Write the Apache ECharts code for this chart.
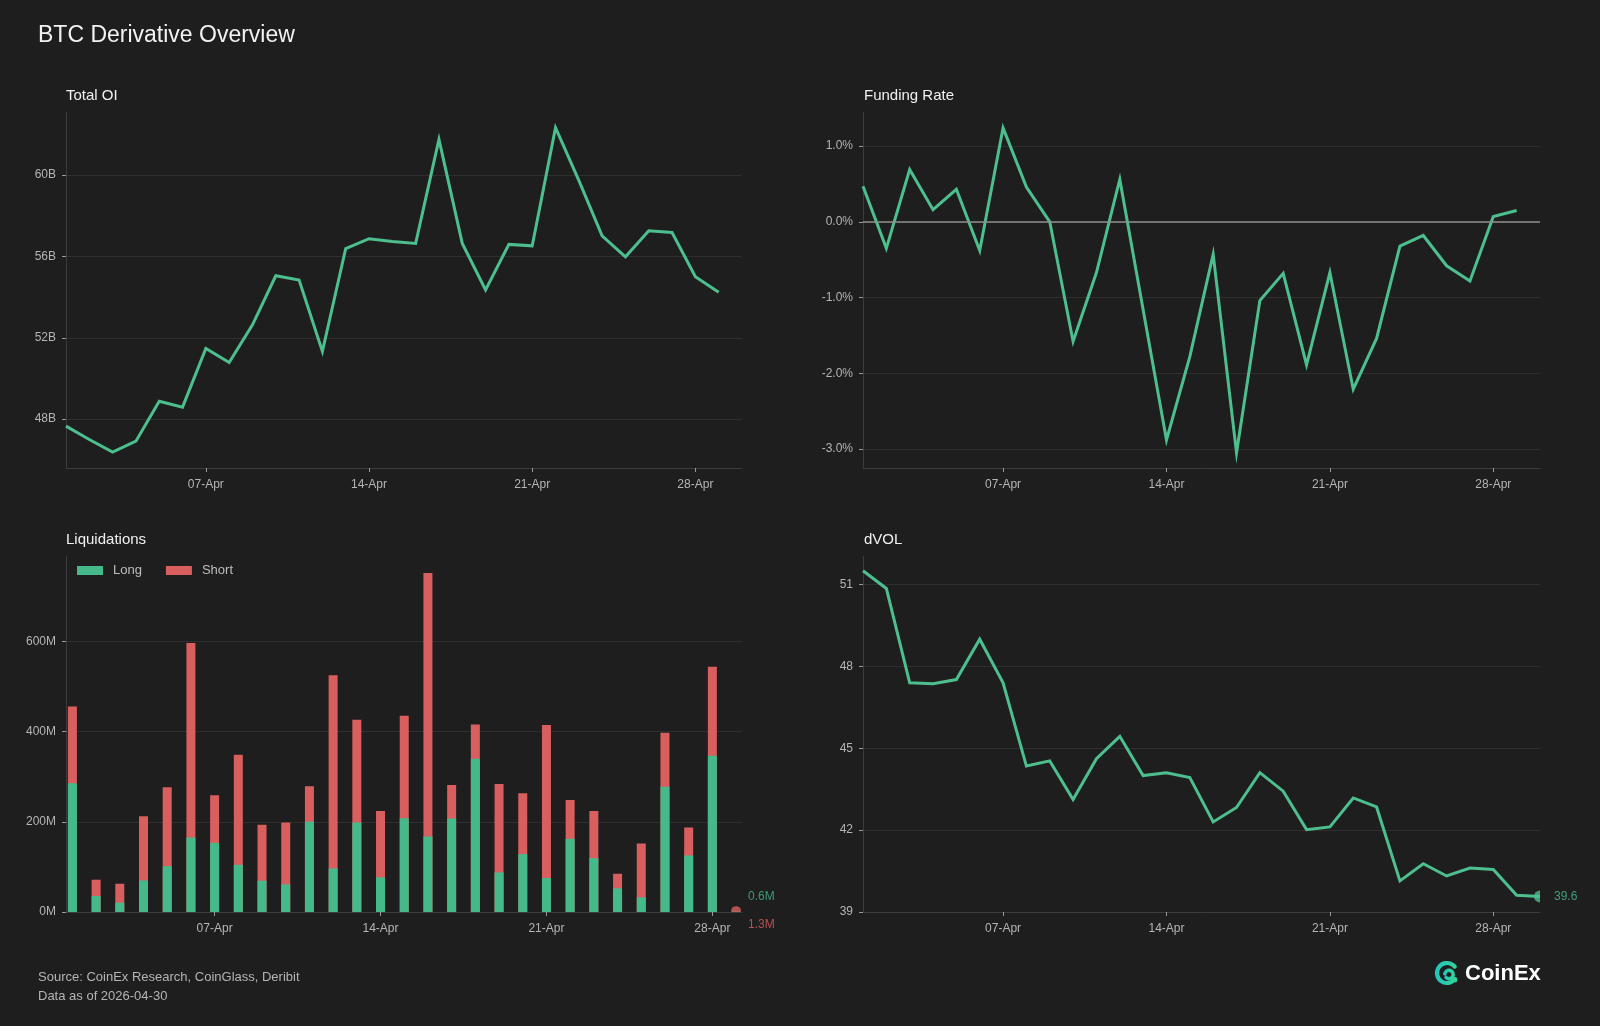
<!DOCTYPE html>
<html>
<head>
<meta charset="utf-8">
<title>BTC Derivative Overview</title>
<script src="https://cdn.jsdelivr.net/npm/echarts@6/dist/echarts.min.js"></script>
<style>
  html, body { margin: 0; padding: 0; background: #1e1e1e; }
  #chart { width: 1600px; height: 1026px; }
</style>
</head>
<body>
<div id="chart"></div>
<script>
// ---- data ----
const dates = [
  '2026-04-01', '2026-04-02', '2026-04-03', '2026-04-04', '2026-04-05', '2026-04-06',
  '2026-04-07', '2026-04-08', '2026-04-09', '2026-04-10', '2026-04-11', '2026-04-12',
  '2026-04-13', '2026-04-14', '2026-04-15', '2026-04-16', '2026-04-17', '2026-04-18',
  '2026-04-19', '2026-04-20', '2026-04-21', '2026-04-22', '2026-04-23', '2026-04-24',
  '2026-04-25', '2026-04-26', '2026-04-27', '2026-04-28', '2026-04-29', '2026-04-30'
];
const tickDays = ['2026-04-07', '2026-04-14', '2026-04-21', '2026-04-28'];

// Total open interest, billions USD (01-Apr .. 29-Apr)
const totalOI = [47.66, 47.0, 46.38, 46.92, 48.88, 48.59, 51.48, 50.79, 52.64, 55.05,
  54.84, 51.33, 56.39, 56.87, 56.73, 56.64, 61.75, 56.64, 54.35, 56.59,
  56.52, 62.33, 59.74, 57.01, 55.98, 57.26, 57.18, 55.0, 54.24];

// Funding rate, % (01-Apr .. 29-Apr)
const fundingRate = [0.47, -0.35, 0.69, 0.16, 0.43, -0.38, 1.24, 0.46, 0.0, -1.58,
  -0.67, 0.56, -1.16, -2.88, -1.78, -0.43, -3.05, -1.04, -0.68, -1.89,
  -0.67, -2.21, -1.54, -0.32, -0.18, -0.58, -0.78, 0.07, 0.15];

// Liquidations, millions USD (01-Apr .. 29-Apr)
const liqLong = [285.6, 35.4, 20.7, 70.1, 101.8, 165.3, 153.5, 104.8, 69.4, 61.3,
  200.0, 96.7, 198.5, 76.8, 208.0, 167.5, 207.4, 340.2, 87.8, 128.4,
  75.3, 162.4, 119.6, 52.4, 32.5, 278.2, 125.5, 346.9, 0.6];
const liqShort = [170.4, 36.2, 42.0, 142.4, 175.0, 431.7, 105.5, 244.2, 124.0, 137.2,
  79.0, 428.8, 228.1, 147.6, 227.4, 584.5, 74.6, 76.0, 196.2, 135.1,
  339.5, 86.3, 104.8, 32.5, 119.5, 119.6, 62.0, 197.1, 1.3];

// Deribit DVOL (01-Apr .. 30-Apr)
const dvol = [51.51, 50.86, 47.40, 47.37, 47.52, 49.0, 47.40, 44.35, 44.54, 43.12,
  44.62, 45.44, 44.0, 44.10, 43.93, 42.30, 42.83, 44.11, 43.43, 42.02,
  42.12, 43.18, 42.85, 40.14, 40.77, 40.32, 40.61, 40.56, 39.61, 39.57];

const oiTicks = [48, 52, 56, 60];
const frTicks = [-3, -2, -1, 0, 1];
const liqTicks = [0, 200, 400, 600];
const dvolTicks = [39, 42, 45, 48, 51];

// ---- helpers ----
const FONT = '"Liberation Sans", Arial, Helvetica, sans-serif';
const LINE_GREEN = '#4dbf8e';
const BAR_GREEN = '#45b98a';
const BAR_RED = '#d95f5f';
const GRID_COLOR = '#2f2f2f';
const AXIS_COLOR = '#3c3c3c';
const LABEL_COLOR = '#b5b5b5';

const dayNum = s => +s.slice(8, 10);
const monthName = 'Apr';
const pts = vals => vals.map((v, i) => [dayNum(dates[i]), v]);
const xTicks = tickDays.map(dayNum);

// value-axis bars don't stack on y here, so the short bar is drawn as long+short behind the long bar
const liqTop = liqLong.map((v, i) => +(v + liqShort[i]).toFixed(1));

function makeX(gridIndex, min, max) {
  return {
    type: 'value', gridIndex, min, max,
    axisLine: { show: true, onZero: false, lineStyle: { color: AXIS_COLOR, width: 1 } },
    axisTick: { show: true, length: 4, customValues: xTicks, lineStyle: { color: '#9a9a9a' } },
    axisLabel: {
      customValues: xTicks, color: LABEL_COLOR, fontSize: 12, fontFamily: FONT, margin: 11,
      formatter: d => String(d).padStart(2, '0') + '-' + monthName
    },
    splitLine: { show: false }
  };
}

function makeY(gridIndex, min, max, ticks, fmt) {
  return {
    type: 'value', gridIndex, min, max,
    axisLine: { show: true, onZero: false, lineStyle: { color: AXIS_COLOR, width: 1 } },
    axisTick: { show: true, length: 4, customValues: ticks, lineStyle: { color: '#9a9a9a' } },
    axisLabel: {
      customValues: ticks, color: LABEL_COLOR, fontSize: 12, fontFamily: FONT, margin: 10,
      formatter: fmt
    },
    splitLine: { show: true, lineStyle: { color: GRID_COLOR, width: 1 } }
  };
}

function lineSeries(name, xi, values) {
  return {
    name, type: 'line', xAxisIndex: xi, yAxisIndex: xi,
    data: pts(values), symbol: 'none', clip: true,
    lineStyle: { color: LINE_GREEN, width: 3, join: 'miter' },
    itemStyle: { color: LINE_GREEN }
  };
}

function text(x, y, str, size, color, extra) {
  return {
    type: 'text', x, y, silent: true,
    style: Object.assign({
      text: str, fill: color, fontSize: size, fontFamily: FONT,
      align: 'left', verticalAlign: 'middle'
    }, extra || {})
  };
}

const lastIdx = liqLong.length - 1;
const lastDvol = dvol.length - 1;
const logoGrad = {
  type: 'linear', x: 0, y: 0, x2: 1, y2: 0,
  colorStops: [{ offset: 0, color: '#1fc6bf' }, { offset: 1, color: '#35d39a' }]
};

const option = {
  backgroundColor: '#1e1e1e',
  animation: false,
  textStyle: { fontFamily: FONT },
  grid: [
    { left: 66, top: 112, width: 676, height: 356 },
    { left: 863, top: 112, width: 677, height: 356 },
    { left: 66, top: 556, width: 676, height: 356 },
    { left: 863, top: 556, width: 677, height: 356 }
  ],
  xAxis: [
    makeX(0, 1, 30),
    makeX(1, 1, 30),
    makeX(2, 0.73, 29.25),
    makeX(3, 1, 30)
  ],
  yAxis: [
    makeY(0, 45.6, 63.1, oiTicks, v => v + 'B'),
    makeY(1, -3.25, 1.45, frTicks, v => v.toFixed(1) + '%'),
    makeY(2, 0, 790, liqTicks, v => v + 'M'),
    makeY(3, 39, 52.05, dvolTicks, v => String(v))
  ],
  legend: {
    data: ['Long', 'Short'],
    left: 77, top: 564, padding: 0,
    icon: 'rect', itemWidth: 26, itemHeight: 9, itemGap: 24,
    selectedMode: false,
    textStyle: { color: '#bdbdbd', fontSize: 13, fontFamily: FONT, padding: [0, 0, 0, 5] }
  },
  series: [
    lineSeries('Total OI', 0, totalOI),
    Object.assign(lineSeries('Funding Rate', 1, fundingRate), {
      markLine: {
        silent: true, symbol: 'none', label: { show: false },
        lineStyle: { color: '#8f8f8f', width: 1.5, type: 'solid' },
        data: [{ yAxis: 0 }]
      },
      z: 3
    }),
    {
      name: 'Short', type: 'bar', xAxisIndex: 2, yAxisIndex: 2,
      data: pts(liqTop), barWidth: 9, barGap: '-100%', itemStyle: { color: BAR_RED }
    },
    {
      name: 'Long', type: 'bar', xAxisIndex: 2, yAxisIndex: 2,
      data: pts(liqLong), barWidth: 9, barGap: '-100%', itemStyle: { color: BAR_GREEN }
    },
    {
      name: 'Latest liquidation', type: 'scatter', xAxisIndex: 2, yAxisIndex: 2,
      data: [[dayNum(dates[lastIdx]), liqTop[lastIdx]]],
      symbol: 'path://M0,10 A10,10 0 0 1 20,10 Z',
      symbolSize: [10, 5], symbolOffset: [0, -2.5], silent: true, z: 5,
      itemStyle: { color: BAR_RED },
      label: {
        show: true, position: 'right', distance: 7, offset: [0, 2.5],
        formatter: () => '{g|' + liqLong[lastIdx].toFixed(1) + 'M}\n{r|' + liqShort[lastIdx].toFixed(1) + 'M}',
        rich: {
          g: { color: BAR_GREEN, fontSize: 12, fontFamily: FONT, lineHeight: 28 },
          r: { color: BAR_RED, fontSize: 12, fontFamily: FONT, lineHeight: 28 }
        }
      }
    },
    lineSeries('dVOL', 3, dvol),
    {
      name: 'Latest dVOL', type: 'scatter', xAxisIndex: 3, yAxisIndex: 3,
      data: [[dayNum(dates[lastDvol]), dvol[lastDvol]]],
      symbol: 'path://M10,0 A10,10 0 0 0 10,20 Z',
      symbolSize: [6, 12], symbolOffset: [-3, 0], silent: true, z: 5,
      itemStyle: { color: LINE_GREEN },
      label: {
        show: true, position: 'right', distance: 11, offset: [3, 0],
        color: LINE_GREEN, fontSize: 12, fontFamily: FONT,
        formatter: p => p.value[1].toFixed(1)
      }
    }
  ],
  graphic: [
    text(38, 36, 'BTC Derivative Overview', 23, '#f2f2f2'),
    text(66, 96, 'Total OI', 15, '#f0f0f0'),
    text(864, 96, 'Funding Rate', 15, '#f0f0f0'),
    text(66, 540, 'Liquidations', 15, '#f0f0f0'),
    text(864, 540, 'dVOL', 15, '#f0f0f0'),
    text(38, 977, 'Source: CoinEx Research, CoinGlass, Deribit', 13, '#b4b4b4'),
    text(38, 996, 'Data as of 2026-04-30', 13, '#b4b4b4'),
    // CoinEx mark: open outer ring with an inner loop
    {
      type: 'arc', silent: true,
      shape: { cx: 1447, cy: 973, r: 10, startAngle: Math.PI * 0.2, endAngle: Math.PI * 1.78, clockwise: true },
      style: { stroke: logoGrad, lineWidth: 4.2, fill: null, lineCap: 'round' }
    },
    {
      type: 'arc', silent: true,
      shape: { cx: 1449, cy: 974.5, r: 4.2, startAngle: -Math.PI * 0.95, endAngle: Math.PI * 0.75, clockwise: true },
      style: { stroke: logoGrad, lineWidth: 3.6, fill: null, lineCap: 'round' }
    },
    {
      type: 'line', silent: true,
      shape: { x1: 1452, y1: 978, x2: 1455.5, y2: 980.5 },
      style: { stroke: '#35d39a', lineWidth: 3.6, lineCap: 'round' }
    },
    text(1465, 974, 'CoinEx', 22, '#ffffff', { fontWeight: 'bold' })
  ]
};

const chart = echarts.init(document.getElementById('chart'), null, { renderer: 'canvas' });
chart.setOption(option);
</script>
</body>
</html>
